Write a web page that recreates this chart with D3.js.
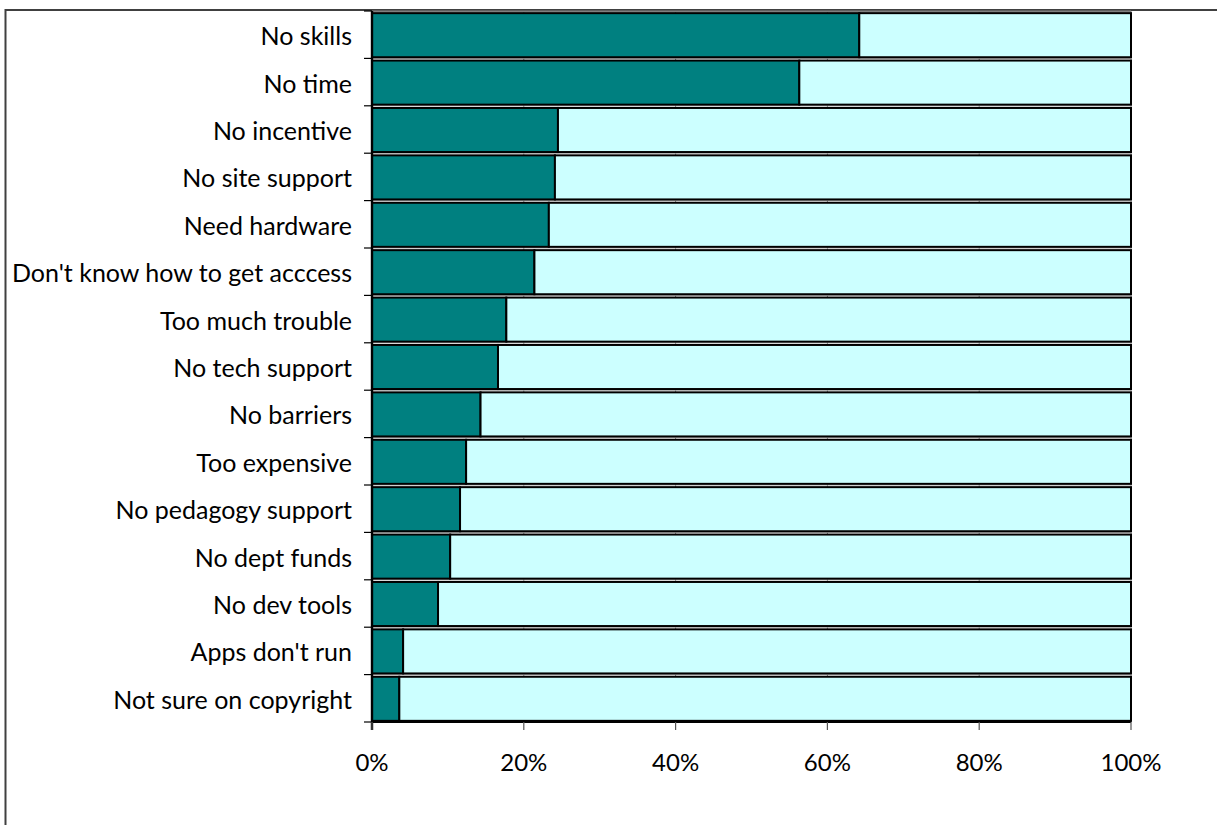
<!DOCTYPE html>
<html>
<head>
<meta charset="utf-8">
<script src="https://cdn.jsdelivr.net/npm/d3@7"></script>
<style>
  html, body { margin: 0; padding: 0; background: #fff; }
  svg { display: block; }
  text { font-family: Lato, "Open Sans", sans-serif; fill: #000; }
</style>
</head>
<body>
<svg id="chart" width="1217" height="825"></svg>
<script>
// ---- data ----
const categories = [
  "No skills", "No time", "No incentive", "No site support", "Need hardware",
  "Don't know how to get acccess", "Too much trouble", "No tech support",
  "No barriers", "Too expensive", "No pedagogy  support", "No dept funds",
  "No dev tools", "Apps don't run", "Not sure on copyright"
];
const yesValues = [64.2, 56.3, 24.5, 24.1, 23.3, 21.4, 17.7, 16.6, 14.3, 12.4, 11.6, 10.3, 8.7, 4.1, 3.6];
const noValues  = [35.8, 43.7, 75.5, 75.9, 76.7, 78.6, 82.3, 83.4, 85.7, 87.6, 88.4, 89.7, 91.3, 95.9, 96.4];
const tickValues = [0, 0.2, 0.4, 0.6, 0.8, 1.0];
const tickLabels = ["0%", "20%", "40%", "60%", "80%", "100%"];
const seriesColors = ["#008080", "#CCFFFF"];

// ---- layout ----
const svg = d3.select("#chart");
const plot = { left: 372, right: 1131, top: 11, bottom: 722 };

// chart frame
svg.append("path")
  .attr("d", "M5.5,830 V10 H1225")
  .attr("fill", "none").attr("stroke", "#404040").attr("stroke-width", 2);

const x = d3.scaleLinear().domain([0, 1]).range([plot.left, plot.right]);
const y = d3.scaleBand().domain(categories).range([plot.top, plot.bottom])
  .paddingInner(0.07).paddingOuter(0.035);
const step = y.step();

// stacked data (normalized to 100%)
const rows = categories.map((c, i) => {
  const tot = yesValues[i] + noValues[i];
  return { cat: c, yes: yesValues[i] / tot, no: noValues[i] / tot };
});
const stack = d3.stack().keys(["yes", "no"])(rows);

// plot area top border
svg.append("line")
  .attr("x1", plot.left).attr("x2", plot.right)
  .attr("y1", plot.top + 0.5).attr("y2", plot.top + 0.5)
  .attr("stroke", "#808080").attr("stroke-width", 2);

// vertical gridlines
svg.append("g").selectAll("line").data(tickValues.slice(1)).join("line")
  .attr("x1", d => x(d)).attr("x2", d => x(d))
  .attr("y1", plot.top).attr("y2", plot.bottom)
  .attr("stroke", "#808080").attr("stroke-width", 1);

// horizontal band boundary lines
const boundaries = d3.range(1, categories.length).map(i => plot.top + i * step);
svg.append("g").selectAll("line").data(boundaries).join("line")
  .attr("x1", plot.left).attr("x2", plot.right)
  .attr("y1", d => d).attr("y2", d => d)
  .attr("stroke", "#a0a0a0").attr("stroke-width", 1);

// bars
svg.append("g").selectAll("g").data(stack).join("g")
  .attr("fill", (d, i) => seriesColors[i])
  .selectAll("rect").data(d => d).join("rect")
  .attr("x", d => x(d[0]))
  .attr("width", d => x(d[1]) - x(d[0]))
  .attr("y", d => y(d.data.cat) + 0.5)
  .attr("height", y.bandwidth())
  .attr("stroke", "#000").attr("stroke-width", 2);

// y axis line + ticks
svg.append("line")
  .attr("x1", plot.left).attr("x2", plot.left)
  .attr("y1", plot.top).attr("y2", plot.bottom + 8)
  .attr("stroke", "#000").attr("stroke-width", 2.4);
const yTicks = d3.range(0, categories.length + 1).map(i => plot.top + i * step);
svg.append("g").selectAll("line").data(yTicks).join("line")
  .attr("x1", plot.left - 8).attr("x2", plot.left)
  .attr("y1", d => d).attr("y2", d => d)
  .attr("stroke", "#000").attr("stroke-width", 1.2);

// x axis line + ticks
svg.append("line")
  .attr("x1", plot.left).attr("x2", plot.right)
  .attr("y1", plot.bottom).attr("y2", plot.bottom)
  .attr("stroke", "#000").attr("stroke-width", 2.2);
svg.append("g").selectAll("line").data(tickValues).join("line")
  .attr("x1", d => x(d)).attr("x2", d => x(d))
  .attr("y1", plot.bottom).attr("y2", plot.bottom + 8)
  .attr("stroke", "#555").attr("stroke-width", 1.2);

// category labels
svg.append("g").selectAll("text").data(categories).join("text")
  .attr("x", 352)
  .attr("y", d => y(d) + y.bandwidth() / 2 + 0.5)
  .attr("text-anchor", "end")
  .attr("dominant-baseline", "central")
  .style("font-size", "25px")
  .text(d => d);

// x tick labels
svg.append("g").selectAll("text").data(tickValues).join("text")
  .attr("x", d => x(d))
  .attr("y", 761)
  .attr("text-anchor", "middle")
  .attr("dominant-baseline", "central")
  .style("font-size", "24px")
  .text((d, i) => tickLabels[i]);
</script>
</body>
</html>
